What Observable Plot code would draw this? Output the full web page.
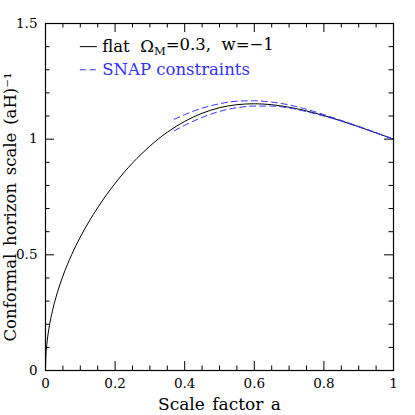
<!DOCTYPE html>
<html><head><meta charset="utf-8">
<script src="https://cdn.jsdelivr.net/npm/d3@7"></script>
<script src="https://cdn.jsdelivr.net/npm/@observablehq/plot@0.6"></script>
<style>body{margin:0;background:#fff} #chart svg{font-family:"DejaVu Serif",serif}</style>
</head><body><div id="chart"></div>
<script>
// Model: flat Omega_M = 0.3, w = -1
const aModel = [0, 0.001, 0.0025, 0.005, 0.01, 0.02, 0.03, 0.05, 0.075, 0.1, 0.125, 0.15, 0.175, 0.2, 0.225, 0.25, 0.275, 0.3, 0.325, 0.35, 0.4, 0.45, 0.5, 0.55, 0.6, 0.65, 0.7, 0.75, 0.8, 0.85, 0.9, 0.95, 1];
const hModel = [0, 0.058, 0.091, 0.129, 0.183, 0.258, 0.316, 0.408, 0.500, 0.577, 0.644, 0.704, 0.759, 0.809, 0.855, 0.897, 0.935, 0.970, 1.002, 1.030, 1.077, 1.112, 1.136, 1.149, 1.153, 1.149, 1.138, 1.122, 1.102, 1.079, 1.054, 1.027, 1.000];
// SNAP constraints band
const aSnap = [0.37, 0.4, 0.45, 0.5, 0.55, 0.6, 0.65, 0.7, 0.75, 0.8, 0.85, 0.9, 0.95, 1.0];
const hSnapUpper = [1.086, 1.106, 1.134, 1.153, 1.164, 1.166, 1.160, 1.148, 1.129, 1.106, 1.081, 1.055, 1.028, 1.000];
const hSnapLower = [1.036, 1.060, 1.094, 1.120, 1.136, 1.143, 1.143, 1.135, 1.119, 1.100, 1.078, 1.053, 1.027, 1.000];
// ticks
const xMajor = [0, 0.2, 0.4, 0.6, 0.8, 1];
const xMinor = [0.05, 0.1, 0.15, 0.25, 0.3, 0.35, 0.45, 0.5, 0.55, 0.65, 0.7, 0.75, 0.85, 0.9, 0.95];
const yMajor = [0, 0.5, 1, 1.5];
const yMinor = [0.1, 0.2, 0.3, 0.4, 0.6, 0.7, 0.8, 0.9, 1.1, 1.2, 1.3, 1.4];
const xLabels = ["0", "0.2", "0.4", "0.6", "0.8", "1"];
const yLabels = ["0", "0.5", "1", "1.5"];
const legendLabels = ["flat ΩM=0.3, w=−1", "SNAP constraints"];

const model = aModel.map((a, i) => ({a, h: hModel[i]}));
const upper = aSnap.map((a, i) => ({a, h: hSnapUpper[i]}));
const lower = aSnap.map((a, i) => ({a, h: hSnapLower[i]}));

const W = 415, H = 415, mL = 45, mR = 22, mT = 23, mB = 45;
const plotW = W - mL - mR, plotH = H - mT - mB;
const majorLen = 9, minorLen = 4.5;
const blue = "#3333ff";

const tickMarksX = (vals, len) => [
  Plot.tickX(vals, {x: d => d, insetTop: plotH - len, stroke: "#000", strokeWidth: 1}),
  Plot.tickX(vals, {x: d => d, insetBottom: plotH - len, stroke: "#000", strokeWidth: 1})
];
const tickMarksY = (vals, len) => [
  Plot.tickY(vals, {y: d => d, insetRight: plotW - len, stroke: "#000", strokeWidth: 1}),
  Plot.tickY(vals, {y: d => d, insetLeft: plotW - len, stroke: "#000", strokeWidth: 1})
];

const plot = Plot.plot({
  width: W, height: H,
  marginLeft: mL, marginRight: mR, marginTop: mT, marginBottom: mB,
  style: {fontFamily: "DejaVu Serif", fontSize: "13.5px", background: "#fff", color: "#000", overflow: "visible"},
  x: {domain: [0, 1]},
  y: {domain: [0, 1.5]},
  marks: [
    ...tickMarksX(xMinor, minorLen),
    ...tickMarksX(xMajor, majorLen),
    ...tickMarksY(yMinor, minorLen),
    ...tickMarksY(yMajor, majorLen),
    Plot.axisX({ticks: xMajor, tickSize: 0, tickPadding: 8, tickFormat: d => xLabels[xMajor.indexOf(d)],
      label: "Scale factor a", labelAnchor: "center", labelOffset: 39, labelArrow: "none"}),
    Plot.axisY({ticks: yMajor, tickSize: 0, tickPadding: 8, tickFormat: d => yLabels[yMajor.indexOf(d)],
      label: "Conformal horizon scale (aH)⁻¹", labelAnchor: "center", labelOffset: 41.5, labelArrow: "none"}),
    Plot.line(model, {x: "a", y: "h", stroke: "#000", strokeWidth: 1, curve: "monotone-x"}),
    Plot.line(upper, {x: "a", y: "h", stroke: blue, strokeWidth: 1, strokeDasharray: "6,4", curve: "monotone-x"}),
    Plot.line(lower, {x: "a", y: "h", stroke: blue, strokeWidth: 1, strokeDasharray: "6,4", curve: "monotone-x"}),
    // legend
    Plot.ruleY([1.4], {x1: 0.10, x2: 0.149, stroke: "#000", strokeWidth: 1}),
    Plot.ruleY([1.3], {x1: 0.10, x2: 0.149, stroke: blue, strokeWidth: 1, strokeDasharray: "6,4"}),
    Plot.text([legendLabels[0]], {x: 0.163, y: 1.4, text: d => d, textAnchor: "start", fontSize: 16.5, fill: "#000"}),
    Plot.text([legendLabels[1]], {x: 0.163, y: 1.3, text: d => d, textAnchor: "start", fontSize: 16.5, fill: blue}),
    Plot.frame({stroke: "#000", strokeWidth: 1.2})
  ]
});

// styling tweaks
d3.select(plot).selectAll('g[aria-label="x-axis label"]')
  .attr("font-size", "17px").attr("word-spacing", "2px");
d3.select(plot).selectAll('g[aria-label="y-axis label"]')
  .attr("font-size", "16.5px").attr("word-spacing", "2.5px")
  .attr("transform", function() { return ((this.getAttribute("transform") || "") + " translate(0,10)").trim(); });
// subscript M in legend
d3.select(plot).selectAll("text").each(function() {
  const t = d3.select(this);
  if (t.text() === legendLabels[0]) {
    t.text(null).attr("style", "white-space:pre");
    t.append("tspan").text("flat  Ω");
    t.append("tspan").attr("dy", "0.3em").attr("font-size", "0.7em").text("M");
    t.append("tspan").attr("dy", "-0.3em").text("=0.3,  w=−1");
  }
});
document.getElementById("chart").append(plot);
</script>
</body></html>
